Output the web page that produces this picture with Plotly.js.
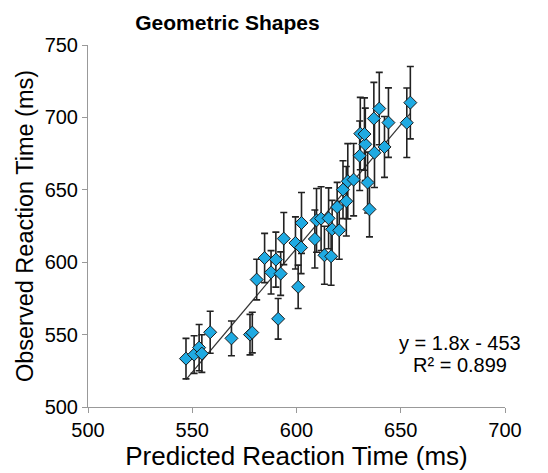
<!DOCTYPE html>
<html>
<head>
<meta charset="utf-8">
<script src="https://cdn.plot.ly/plotly-3.0.1.min.js"></script>
<style>html,body{margin:0;padding:0;background:#fff;}#chart{width:548px;height:473px;}</style>
</head>
<body>
<div id="chart"></div>
<script>
// Predicted reaction time (ms)
const predicted = [547.0, 550.9, 553.3, 554.6, 558.6, 568.8, 577.7, 578.8, 591.2, 580.9,
  584.7, 587.8, 590.1, 592.4, 593.9, 600.8, 599.5, 602.4, 602.2, 609.6,
  608.8, 611.8, 615.4, 617.1, 620.5, 613.4, 616.6, 619.5, 623.9, 622.3,
  624.6, 627.4, 634.1, 635.0, 630.3, 633.0, 637.4, 630.6, 632.6, 637.1,
  639.7, 644.1, 642.2, 654.6, 652.9];
// Observed reaction time (ms)
const observed = [533.4, 536.2, 541.0, 536.9, 551.6, 547.4, 550.0, 551.4, 560.9, 588.0,
  602.9, 593.0, 601.8, 592.1, 616.3, 583.0, 613.3, 627.1, 610.1, 628.9,
  616.0, 630.1, 630.3, 622.7, 622.0, 604.8, 604.1, 638.1, 642.1, 650.1,
  655.9, 657.0, 655.0, 636.5, 673.5, 681.4, 675.6, 688.8, 688.5, 699.2,
  706.1, 696.4, 679.6, 710.2, 696.3];
// Error (± ms)
const errors = [14, 13, 16, 13, 14.5, 12, 14, 14, 14, 14,
  17, 15, 19, 15, 18, 15, 18, 21, 18, 22,
  20, 22, 21, 20, 20, 20, 20, 17, 24, 20,
  26, 25, 21, 19, 24, 25, 24, 25, 25, 25,
  25, 24, 21, 25, 24];
const titleText = "Geometric Shapes";
const xTitle = "Predicted Reaction Time (ms)";
const yTitle = "Observed Reaction Time (ms)";
const equationText = "y = 1.8x - 453";
const r2Text = "R² = 0.899";

// least-squares trendline from the data
const n = predicted.length;
const mx = predicted.reduce((a,b)=>a+b,0)/n;
const my = observed.reduce((a,b)=>a+b,0)/n;
let sxy = 0, sxx = 0;
for (let i=0;i<n;i++){ sxy += (predicted[i]-mx)*(observed[i]-my); sxx += (predicted[i]-mx)**2; }
const slope = sxy/sxx, intercept = my - slope*mx;
const xmin = Math.min(...predicted), xmax = Math.max(...predicted);
const lineX = [xmin, xmax];
const lineY = lineX.map(v => slope*v + intercept);

const font = "'Liberation Sans', Arial, Helvetica, sans-serif";

const traces = [
  {
    x: lineX, y: lineY, mode: 'lines', type: 'scatter',
    line: {color: '#333333', width: 1.2}, hoverinfo: 'skip', showlegend: false
  },
  {
    x: predicted, y: observed, mode: 'markers', type: 'scatter',
    marker: {symbol: 'diamond', size: 10, color: '#1faae2', line: {color: '#1a1a1a', width: 1}},
    error_y: {type: 'data', array: errors, visible: true, color: '#222222', thickness: 1.6, width: 3.5},
    showlegend: false
  }
];

const layout = {
  width: 548, height: 473,
  margin: {l: 88, r: 43, t: 45, b: 66},
  paper_bgcolor: '#ffffff', plot_bgcolor: '#ffffff',
  font: {family: font, color: '#000'},
  showlegend: false,
  title: {text: '<b>' + titleText + '</b>', x: 0.415, xanchor: 'center', y: 0.952, yanchor: 'middle',
          font: {family: font, size: 21, color: '#000'}},
  xaxis: {
    range: [500, 700], dtick: 50, tick0: 500, showgrid: false, zeroline: false,
    showline: true, linecolor: '#999999', linewidth: 1,
    ticks: 'outside', ticklen: 5, tickcolor: '#999999',
    tickfont: {family: font, size: 20, color: '#000'},
    title: {text: xTitle, font: {family: font, size: 26, color: '#000'}, standoff: 3}
  },
  yaxis: {
    range: [500, 750], dtick: 50, tick0: 500, showgrid: false, zeroline: false,
    showline: true, linecolor: '#999999', linewidth: 1,
    ticks: 'outside', ticklen: 5, tickcolor: '#999999',
    tickfont: {family: font, size: 20, color: '#000'},
    title: {text: yTitle, font: {family: font, size: 23.5, color: '#000'}, standoff: 4}
  },
  annotations: [
    {xref: 'paper', yref: 'paper', x: 0.892, y: 0.177, text: equationText, showarrow: false,
     xanchor: 'center', yanchor: 'middle', font: {family: font, size: 20, color: '#000'}},
    {xref: 'paper', yref: 'paper', x: 0.892, y: 0.116, text: r2Text, showarrow: false,
     xanchor: 'center', yanchor: 'middle', font: {family: font, size: 20, color: '#000'}}
  ]
};

Plotly.newPlot('chart', traces, layout, {displayModeBar: false, staticPlot: true});
</script>
</body>
</html>
